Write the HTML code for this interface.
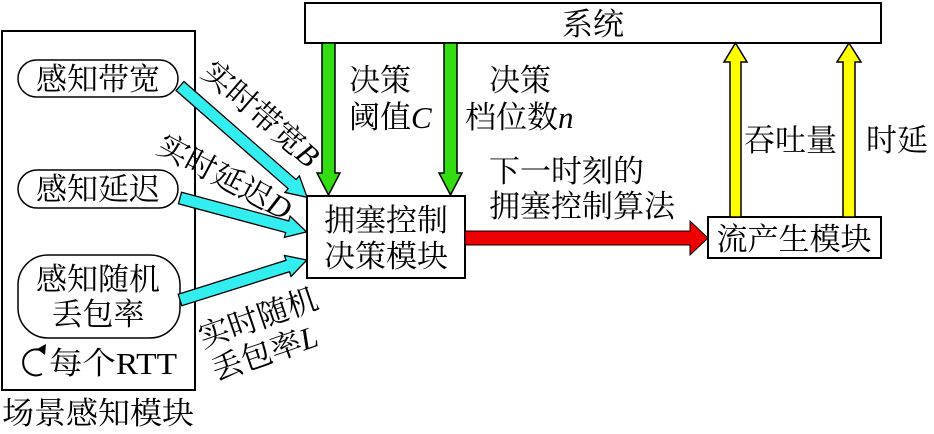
<!DOCTYPE html>
<html><head><meta charset="utf-8"><style>
html,body{margin:0;padding:0;background:#fff;width:934px;height:434px;overflow:hidden}
svg text{font-family:"Liberation Serif","Noto Serif CJK SC",serif;font-size:31px;fill:#000}
</style></head><body>
<svg width="934" height="434" xmlns="http://www.w3.org/2000/svg">
<rect x="2" y="31" width="193" height="359" fill="#fff" stroke="#000" stroke-width="2"/>
<rect x="18" y="60" width="160" height="37" rx="18.5" fill="#fff" stroke="#000" stroke-width="1.5"/>
<text x="98" y="90" text-anchor="middle">感知带宽</text>
<rect x="18" y="170" width="160" height="38" rx="19" fill="#fff" stroke="#000" stroke-width="1.5"/>
<text x="98" y="200" text-anchor="middle">感知延迟</text>
<rect x="18" y="255" width="162" height="83" rx="30" fill="#fff" stroke="#000" stroke-width="1.5"/>
<text x="98" y="290" text-anchor="middle">感知随机</text>
<text x="98" y="325" text-anchor="middle">丢包率</text>
<path d="M40 350 A13 13 0 1 0 42 374" fill="none" stroke="#000" stroke-width="2"/>
<polygon points="37,349 46,344 45,355" fill="#000"/>
<text x="49" y="374" textLength="128" lengthAdjust="spacingAndGlyphs">每个RTT</text>
<text x="2" y="424" textLength="192" lengthAdjust="spacingAndGlyphs">场景感知模块</text>
<rect x="305" y="3" width="576" height="40" fill="#fff" stroke="#000" stroke-width="2"/>
<text x="593" y="35" text-anchor="middle">系统</text>
<rect x="307" y="196" width="158" height="82" fill="#fff" stroke="#000" stroke-width="2"/>
<text x="386" y="231" text-anchor="middle">拥塞控制</text>
<text x="386" y="267" text-anchor="middle">决策模块</text>
<rect x="708" y="217" width="173" height="41" fill="#fff" stroke="#000" stroke-width="2"/>
<text x="794" y="250" text-anchor="middle">流产生模块</text>
<polygon points="322,43 335,43 335,173 340,173 328.5,195 317,173 322,173" fill="#3d1" stroke="#000" stroke-width="1.5"/>
<polygon points="444,43 457,43 457,173 462,173 450.5,195 439,173 444,173" fill="#3d1" stroke="#000" stroke-width="1.5"/>
<polygon points="730,217 741,217 741,62 747,62 735.5,43 724,62 730,62" fill="#ff0" stroke="#000" stroke-width="1.5"/>
<polygon points="843,217 855,217 855,62 861,62 849,43 837,62 843,62" fill="#ff0" stroke="#000" stroke-width="1.5"/>
<polygon points="465,231 690,231 690,221 708,238 690,255 690,245 465,245" fill="#e00" stroke="#000" stroke-width="1"/>
<g fill="#3ee" stroke="#000" stroke-width="1.3">
<polygon transform="translate(180,86) rotate(41.2)" points="0,-6 149,-6 149,-11 169,0 149,11 149,6 0,6"/>
<polygon transform="translate(180,198) rotate(15)" points="0,-6 111,-6 111,-11 131,0 111,11 111,6 0,6"/>
<polygon transform="translate(180,300) rotate(-17.5)" points="0,-6 113,-6 113,-11 133,0 113,11 113,6 0,6"/>
</g>
<text transform="translate(200,75) rotate(41)">实时带宽<tspan font-style="italic">B</tspan></text>
<text transform="translate(155,152) rotate(28)">实时延迟<tspan font-style="italic">D</tspan></text>
<text transform="translate(203,348) rotate(-19)">实时随机</text>
<text transform="translate(216,381) rotate(-19)">丢包率<tspan font-style="italic">L</tspan></text>
<text x="349" y="91">决策</text>
<text x="349" y="128">阈值<tspan font-style="italic">C</tspan></text>
<text x="489" y="91">决策</text>
<text x="465" y="128">档位数<tspan font-style="italic">n</tspan></text>
<text x="489" y="182">下一时刻的</text>
<text x="489" y="217">拥塞控制算法</text>
<text x="744" y="151">吞吐量</text>
<text x="866" y="151">时延</text>
</svg>
</body></html>
